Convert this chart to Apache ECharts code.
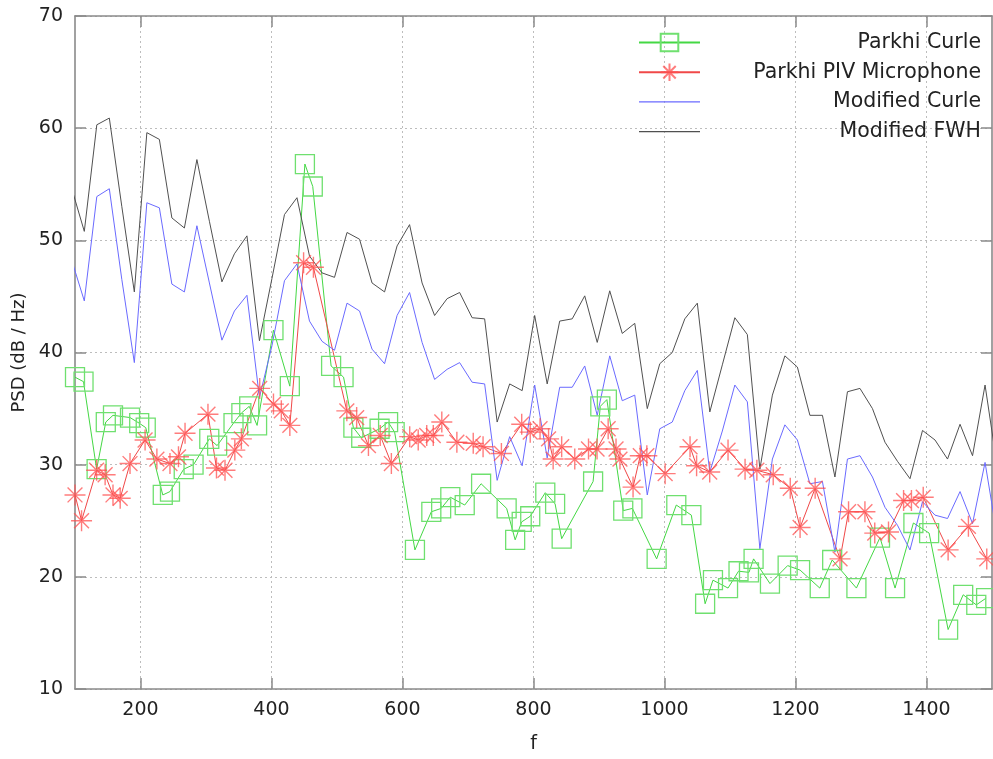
<!DOCTYPE html>
<html>
<head>
<meta charset="utf-8">
<script src="https://cdn.jsdelivr.net/npm/echarts@6/dist/echarts.min.js"></script>
<style>
html,body{margin:0;padding:0;background:#fff;}
#chart{width:993px;height:759px;}
</style>
</head>
<body>
<div id="chart"></div>
<script>
// Frequencies of the model curves (Hz)
const modelFreq = [95.1,114.2,133.3,152.4,171.5,190.6,209.7,228.8,247.9,267.0,286.1,305.2,324.3,343.4,362.5,381.6,400.7,419.8,438.9,458.0,477.1,496.2,515.3,534.4,553.5,572.6,591.7,610.8,629.9,649.0,668.1,687.2,706.3,725.4,744.5,763.6,782.7,801.8,820.9,840.0,859.1,878.2,897.3,916.4,935.5,954.6,973.7,992.8,1011.9,1031.0,1050.1,1069.2,1088.3,1107.4,1126.5,1145.6,1164.7,1183.8,1202.9,1222.0,1241.1,1260.2,1279.3,1298.4,1317.5,1336.6,1355.7,1374.8,1393.9,1413.0,1432.1,1451.2,1470.3,1489.4,1508.5];
// Modified FWH (dB/Hz)
const modifiedFWH = [54.6,50.8,60.3,60.9,53.0,45.4,59.6,59.0,52.0,51.1,57.2,51.7,46.3,48.8,50.4,41.05,46.6,52.3,53.8,48.6,47.1,46.7,50.7,50.1,46.2,45.4,49.5,51.4,46.2,43.3,44.8,45.35,43.1,43.0,33.8,37.2,36.6,43.3,37.2,42.8,43.0,45.05,40.9,45.5,41.7,42.6,35.0,39.0,40.0,43.0,44.4,34.7,38.9,43.1,41.6,29.6,36.2,39.7,38.7,34.4,34.4,28.9,36.5,36.8,35.0,32.0,30.3,28.75,33.05,32.2,30.5,33.6,30.8,37.1,29.6];
// Modified Curle (dB/Hz)
const modifiedCurle = [48.2,44.6,53.9,54.6,46.5,39.1,53.35,52.9,46.1,45.4,51.3,46.2,41.1,43.7,45.1,36.0,40.6,46.4,47.9,42.8,41.0,40.2,44.4,43.7,40.3,39.0,43.3,45.35,40.9,37.6,38.5,39.1,37.35,37.2,28.6,32.5,29.9,37.1,30.6,36.9,36.9,38.8,34.4,39.7,35.7,36.2,27.3,33.2,33.8,36.6,38.4,29.35,33.0,37.1,35.6,22.5,30.5,33.55,32.2,28.3,28.5,22.2,30.5,30.8,28.9,26.2,24.6,22.4,26.7,25.5,25.2,27.6,24.75,30.2,23.4];
// Parkhi Curle
const parkhiCurleF = [100,113,133,147,158,184,198,208,234,245,266,281,305,317,342,354,366,378,403,428,451,463,491,510,525,537,565,578,588,619,644,659,673,695,720,759,772,782,795,818,833,843,891,902,912,937,951,988,1018,1041,1062,1074,1097,1113,1129,1136,1161,1188,1207,1237,1256,1293,1329,1352,1380,1404,1433,1456,1476,1491];
const parkhiCurleV = [37.8,37.4,29.6,33.8,34.4,34.2,33.7,33.3,27.3,27.6,29.6,30.0,32.3,31.7,33.7,34.6,35.2,33.5,42.0,37.0,56.8,54.8,38.8,37.8,33.3,32.4,33.2,33.8,32.9,22.4,25.8,26.1,27.1,26.4,28.3,26.1,23.3,24.9,25.4,27.5,26.5,23.4,28.5,35.2,35.8,25.9,26.1,21.6,26.4,25.5,17.6,19.7,19.0,20.5,20.4,21.6,19.4,21.0,20.6,19.0,21.5,19.0,23.5,19.0,24.8,23.9,15.3,18.4,17.5,18.1];
// Parkhi PIV Microphone
const parkhiPIVF = [100,110,133,146,158,169,184,207,225,245,258,268,303,316,329,344,354,382,403,415,428,449,464,515,530,548,566,583,611,624,637,647,660,683,708,723,751,782,795,810,823,830,843,863,884,897,914,926,932,952,963,973,1001,1039,1049,1069,1097,1123,1141,1166,1192,1207,1230,1268,1281,1306,1321,1342,1365,1377,1395,1433,1464,1492];
const parkhiPIVV = [27.3,25.0,29.5,29.1,27.3,27.0,30.1,32.2,30.5,30.1,30.7,32.8,34.5,29.7,29.5,31.3,32.3,36.8,35.4,34.8,33.5,48.0,47.6,34.8,34.2,31.7,32.6,30.1,32.5,32.2,32.6,32.6,33.8,32.0,31.9,31.6,31.0,33.6,32.9,33.2,32.3,30.5,31.6,30.5,31.4,31.4,33.2,31.4,30.5,28.0,30.8,30.8,29.2,31.6,29.9,29.35,31.3,29.6,29.5,29.1,27.9,24.4,27.9,21.6,25.8,25.8,23.9,24.0,26.8,26.8,27.1,22.4,24.5,21.6];
const xTicks = [200,400,600,800,1000,1200,1400];
const seriesNames = ['Parkhi Curle','Parkhi PIV Microphone','Modified Curle','Modified FWH'];

const zip = (a, b) => a.map((v, i) => [v, b[i]]);
const starPath = 'path://M10,0L10,20M0,10L20,10M2.93,2.93L17.07,17.07M17.07,2.93L2.93,17.07';
const lineIcon = 'path://M0,0L61,0L61,1.2L0,1.2Z';
const FONT = 'DejaVu Sans';
const TXT = '#222';

const chart = echarts.init(document.getElementById('chart'), null, {renderer: 'canvas'});
const axisLineStyle = {color: '#8a8a8a', width: 1.6};
const tickStyle = {color: '#8a8a8a', width: 1.5};
chart.setOption({
  animation: false,
  backgroundColor: '#fff',
  textStyle: {fontFamily: FONT},
  grid: {left: 75, right: 1, top: 16, bottom: 68, containLabel: false},
  legend: {
    orient: 'vertical',
    left: 633, top: 27,
    itemWidth: 61, itemHeight: 22, itemGap: 8.7,
    data: [
      {name: seriesNames[0]},
      {name: seriesNames[1]},
      {name: seriesNames[2], icon: lineIcon},
      {name: seriesNames[3], icon: lineIcon}
    ],
    formatter: '{r|{name}}',
    textStyle: {fontFamily: FONT, fontSize: 20.5, color: TXT,
      rich: {r: {width: 276, align: 'right', fontFamily: FONT, fontSize: 20.5, color: TXT}}}
  },
  xAxis: [{
    type: 'value', min: 100, max: 1500, splitNumber: 7,
    name: 'f', nameLocation: 'middle', nameGap: 46,
    nameTextStyle: {fontFamily: FONT, fontSize: 19, color: TXT},
    axisLine: {show: true, lineStyle: axisLineStyle},
    axisTick: {show: true, inside: true, length: 11, customValues: xTicks, lineStyle: tickStyle},
    axisLabel: {customValues: xTicks, formatter: v => String(v), fontFamily: FONT, fontSize: 19, color: TXT, margin: 12},
    splitLine: {show: true, lineStyle: {color: '#bdbdbd', type: [2, 3], width: 1}}
  }, {
    type: 'value', min: 100, max: 1500, position: 'top',
    axisLine: {show: true, lineStyle: axisLineStyle},
    axisTick: {show: true, inside: true, length: 11, customValues: xTicks, lineStyle: tickStyle},
    axisLabel: {show: false},
    splitLine: {show: false}
  }],
  yAxis: [{
    type: 'value', min: 10, max: 70, interval: 10,
    name: 'PSD (dB / Hz)', nameLocation: 'middle', nameGap: 41, nameRotate: 90,
    nameTextStyle: {fontFamily: FONT, fontSize: 18, color: TXT},
    axisLine: {show: true, lineStyle: axisLineStyle},
    axisTick: {show: true, inside: true, length: 11, lineStyle: tickStyle},
    axisLabel: {fontFamily: FONT, fontSize: 19, color: TXT, margin: 12},
    splitLine: {show: true, lineStyle: {color: '#bdbdbd', type: [2, 3], width: 1}}
  }, {
    type: 'value', min: 10, max: 70, interval: 10, position: 'right',
    axisLine: {show: true, lineStyle: axisLineStyle},
    axisTick: {show: true, inside: true, length: 11, lineStyle: tickStyle},
    axisLabel: {show: false},
    splitLine: {show: false}
  }],
  series: [{
    name: seriesNames[0], type: 'line', data: zip(parkhiCurleF, parkhiCurleV),
    symbol: 'rect', symbolSize: 19,
    lineStyle: {color: '#44d844', width: 1},
    itemStyle: {color: 'rgba(255,255,255,0)', borderColor: '#6fe06f', borderWidth: 1.3},
    emphasis: {disabled: true}
  }, {
    name: seriesNames[1], type: 'line', data: zip(parkhiPIVF, parkhiPIVV),
    symbol: starPath, symbolSize: 21,
    lineStyle: {color: '#f04848', width: 1},
    itemStyle: {color: 'rgba(255,255,255,0)', borderColor: 'rgba(255,80,80,0.75)', borderWidth: 1.4},
    emphasis: {disabled: true}
  }, {
    name: seriesNames[2], type: 'line', data: zip(modelFreq, modifiedCurle),
    showSymbol: false, symbol: 'none',
    lineStyle: {color: '#6a6aff', width: 1},
    itemStyle: {color: '#6a6aff'},
    emphasis: {disabled: true}
  }, {
    name: seriesNames[3], type: 'line', data: zip(modelFreq, modifiedFWH),
    showSymbol: false, symbol: 'none',
    lineStyle: {color: '#505050', width: 1},
    itemStyle: {color: '#505050'},
    emphasis: {disabled: true}
  }]
});
</script>
</body>
</html>
